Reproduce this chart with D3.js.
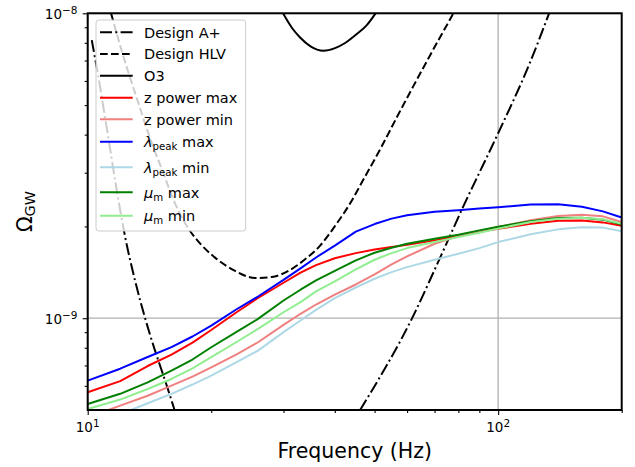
<!DOCTYPE html>
<html><head><meta charset="utf-8">
<script src="https://cdn.jsdelivr.net/npm/d3@7"></script>
<style>
body{margin:0;background:#fff}
svg{display:block}
text{font-family:"DejaVu Sans",sans-serif;fill:#000}
</style>
</head><body>
<svg id="chart" width="635" height="467"></svg>
<script>
// ---------- data ----------
const freq = [10,12,14,16,18,20,23,26,30,33,36,40,45,50,55,60,70,80,90,100,120,140,160,180,200];
const zPowerMax = [0.572e-9,0.622e-9,0.697e-9,0.760e-9,0.832e-9,0.915e-9,1.044e-9,1.165e-9,1.307e-9,1.411e-9,1.493e-9,1.573e-9,1.635e-9,1.680e-9,1.712e-9,1.740e-9,1.800e-9,1.865e-9,1.920e-9,1.965e-9,2.039e-9,2.086e-9,2.091e-9,2.062e-9,2.009e-9];
const zPowerMin = [0.472e-9,0.517e-9,0.557e-9,0.601e-9,0.643e-9,0.690e-9,0.760e-9,0.834e-9,0.951e-9,1.034e-9,1.109e-9,1.195e-9,1.290e-9,1.392e-9,1.501e-9,1.595e-9,1.755e-9,1.859e-9,1.931e-9,1.990e-9,2.094e-9,2.163e-9,2.186e-9,2.158e-9,2.067e-9];
const lambdaPeakMax = [0.624e-9,0.683e-9,0.746e-9,0.804e-9,0.871e-9,0.946e-9,1.068e-9,1.178e-9,1.335e-9,1.457e-9,1.582e-9,1.730e-9,1.922e-9,2.036e-9,2.121e-9,2.175e-9,2.233e-9,2.258e-9,2.288e-9,2.310e-9,2.360e-9,2.363e-9,2.319e-9,2.241e-9,2.139e-9];
const lambdaPeakMin = [0.440e-9,0.484e-9,0.526e-9,0.565e-9,0.606e-9,0.648e-9,0.717e-9,0.783e-9,0.900e-9,0.983e-9,1.065e-9,1.163e-9,1.261e-9,1.347e-9,1.416e-9,1.471e-9,1.555e-9,1.628e-9,1.698e-9,1.777e-9,1.884e-9,1.956e-9,1.986e-9,1.982e-9,1.927e-9];
const muMax = [0.523e-9,0.565e-9,0.616e-9,0.673e-9,0.732e-9,0.803e-9,0.900e-9,0.995e-9,1.143e-9,1.240e-9,1.330e-9,1.430e-9,1.547e-9,1.640e-9,1.703e-9,1.755e-9,1.823e-9,1.879e-9,1.941e-9,1.996e-9,2.078e-9,2.131e-9,2.137e-9,2.105e-9,2.027e-9];
const muMin = [0.504e-9,0.541e-9,0.586e-9,0.632e-9,0.685e-9,0.745e-9,0.834e-9,0.923e-9,1.046e-9,1.129e-9,1.224e-9,1.320e-9,1.445e-9,1.555e-9,1.635e-9,1.698e-9,1.777e-9,1.845e-9,1.908e-9,1.967e-9,2.067e-9,2.121e-9,2.137e-9,2.110e-9,2.042e-9];

const aPlusFreq  = [10.23,10.60,11.13,11.77,12.33,13.04,13.80,14.59,15.44,16.28,null,46.10,62.15,72.22,82.30,99.72,119.7,133.1];
const aPlusOmega = [8.17e-9,6.27e-9,4.20e-9,2.63e-9,1.855e-9,1.33e-9,1.00e-9,0.783e-9,0.624e-9,0.50e-9,null,0.50e-9,1.02e-9,1.58e-9,2.33e-9,4.01e-9,6.92e-9,1.0e-8];
const hlvFreq  = [11.40,12.19,13.17,14.19,15.26,16.32,17.46,18.78,20.43,22.86,25.57,28.08,30.83,33.85,36.83,40.29,43.59,46.96,51.58,56.64,62.15,68.29,77.82];
const hlvOmega = [1.0e-8,7.29e-9,5.27e-9,3.89e-9,3.01e-9,2.38e-9,2.00e-9,1.76e-9,1.58e-9,1.43e-9,1.355e-9,1.365e-9,1.43e-9,1.56e-9,1.73e-9,2.03e-9,2.38e-9,2.85e-9,3.58e-9,4.56e-9,5.77e-9,7.29e-9,1.0e-8];
const o3Freq  = [29.92,31.47,32.92,34.83,37.52,40.06,42.38,45.25,47.86,50.28];
const o3Omega = [1.0e-8,8.95e-9,8.33e-9,7.81e-9,7.54e-9,7.69e-9,7.99e-9,8.55e-9,9.15e-9,1.0e-8];

const xMajor = [10,100];
const xMinor = [20,30,40,50,60,70,80,90,200];
const yMajor = [1e-9,1e-8];
const yMinor = [6e-10,7e-10,8e-10,9e-10,2e-9,3e-9,4e-9,5e-9,6e-9,7e-9,8e-9,9e-9];
const xTickLabels = [["10","1"],["10","2"]];
const yTickLabels = [["10","\u22129"],["10","\u22128"]];

const series = [
  {label:["Design A+"], f:aPlusFreq, v:aPlusOmega, color:"#000", dash:"12,3.3,2,3.3", curve:d3.curveMonotoneX},
  {label:["Design HLV"], f:hlvFreq, v:hlvOmega, color:"#000", dash:"7.7,3.3", curve:d3.curveMonotoneX},
  {label:["O3"], f:o3Freq, v:o3Omega, color:"#000", dash:null, curve:d3.curveMonotoneX},
  {label:["z power max"], f:freq, v:zPowerMax, color:"red"},
  {label:["z power min"], f:freq, v:zPowerMin, color:"lightcoral"},
  {label:["\u03bb","peak"," max"], f:freq, v:lambdaPeakMax, color:"blue"},
  {label:["\u03bb","peak"," min"], f:freq, v:lambdaPeakMin, color:"lightblue"},
  {label:["\u03bc","m"," max"], f:freq, v:muMax, color:"green"},
  {label:["\u03bc","m"," min"], f:freq, v:muMin, color:"lightgreen"}
];

// ---------- layout ----------
const L=87.7, R=621.7, T=13.3, B=410;
const svg = d3.select("#chart");
const x = d3.scaleLog().domain([10,200]).range([L,R]);
const y = d3.scaleLog().domain([5e-10,1e-8]).range([B,T]);

svg.append("defs").append("clipPath").attr("id","clip")
  .append("rect").attr("x",L).attr("y",T).attr("width",R-L).attr("height",B-T);

// grid
const grid = svg.append("g").attr("stroke","#b0b0b0").attr("stroke-width",1.3);
xMajor.forEach(v=>grid.append("line").attr("x1",x(v)).attr("x2",x(v)).attr("y1",T).attr("y2",B));
yMajor.forEach(v=>grid.append("line").attr("y1",y(v)).attr("y2",y(v)).attr("x1",L).attr("x2",R));

// curves
const plot = svg.append("g").attr("clip-path","url(#clip)");
series.forEach(s=>{
  const pts = s.f.map((f,i)=>[f,s.v[i]]);
  const line = d3.line().defined(d=>d[0]!=null && d[1]!=null)
    .x(d=>x(d[0])).y(d=>y(d[1])).curve(s.curve||d3.curveLinear);
  const p = plot.append("path").attr("d",line(pts)).attr("fill","none")
    .attr("stroke",s.color).attr("stroke-width",2).attr("stroke-linejoin","round");
  if(s.dash) p.attr("stroke-dasharray",s.dash);
});

// axes
function styleAxis(g){
  g.select(".domain").remove();
  g.selectAll(".tick line").attr("stroke","#000").attr("stroke-width",1.1);
}
const xAxisMaj = d3.axisBottom(x).tickValues(xMajor).tickSize(5).tickFormat("");
const xAxisMin = d3.axisBottom(x).tickValues(xMinor).tickSize(3).tickFormat("");
const yAxisMaj = d3.axisLeft(y).tickValues(yMajor).tickSize(5).tickFormat("");
const yAxisMin = d3.axisLeft(y).tickValues(yMinor).tickSize(3).tickFormat("");
svg.append("g").attr("transform",`translate(0,${B})`).call(xAxisMaj).call(styleAxis);
svg.append("g").attr("transform",`translate(0,${B})`).call(xAxisMin).call(styleAxis);
svg.append("g").attr("transform",`translate(${L},0)`).call(yAxisMaj).call(styleAxis);
svg.append("g").attr("transform",`translate(${L},0)`).call(yAxisMin).call(styleAxis);

// frame
svg.append("rect").attr("x",L).attr("y",T).attr("width",R-L).attr("height",B-T)
  .attr("fill","none").attr("stroke","#000").attr("stroke-width",2);

// tick labels
xMajor.forEach((v,i)=>{
  const t = svg.append("text").attr("x",x(v)).attr("y",431.7).attr("text-anchor","middle").attr("font-size",13.5);
  t.append("tspan").text(xTickLabels[i][0]);
  t.append("tspan").attr("font-size",10.5).attr("dy",-5).text(xTickLabels[i][1]);
});
yMajor.forEach((v,i)=>{
  const t = svg.append("text").attr("x",77.5).attr("y",y(v)+5.6).attr("text-anchor","end").attr("font-size",13.5);
  t.append("tspan").text(yTickLabels[i][0]);
  t.append("tspan").attr("font-size",10.5).attr("dy",-5).text(yTickLabels[i][1]);
});

// axis labels
svg.append("text").attr("x",(L+R)/2).attr("y",458).attr("text-anchor","middle")
  .attr("font-size",20.5).text("Frequency (Hz)");
const yl = svg.append("text").attr("transform",`translate(31.5,${(T+B)/2}) rotate(-90)`)
  .attr("text-anchor","middle").attr("font-size",20.5);
yl.append("tspan").text("\u03a9");
yl.append("tspan").attr("font-size",14.3).attr("dy",3.5).text("GW");

// legend
const lg = svg.append("g");
lg.append("rect").attr("x",96).attr("y",20).attr("width",149.7).attr("height",211).attr("rx",3)
  .attr("fill","#fff").attr("fill-opacity",0.8).attr("stroke","#cccccc").attr("stroke-width",1);
const rowY = [32.3,54,75.7,97.7,119.3,141.7,167.3,192.3,215.7];
series.forEach((s,i)=>{
  const ly = rowY[i];
  const ln = lg.append("line").attr("x1",100).attr("x2",132.7).attr("y1",ly).attr("y2",ly)
    .attr("stroke",s.color).attr("stroke-width",2);
  if(s.dash) ln.attr("stroke-dasharray",s.dash);
  const t = lg.append("text").attr("x",144).attr("y",ly+5.2).attr("font-size",14.5);
  if(s.label.length===1){ t.text(s.label[0]); }
  else{
    t.append("tspan").attr("font-style","italic").text(s.label[0]);
    t.append("tspan").attr("font-size",10.2).attr("dy",3).text(s.label[1]);
    t.append("tspan").attr("dy",-3).text(s.label[2]);
  }
});
</script>
</body></html>
